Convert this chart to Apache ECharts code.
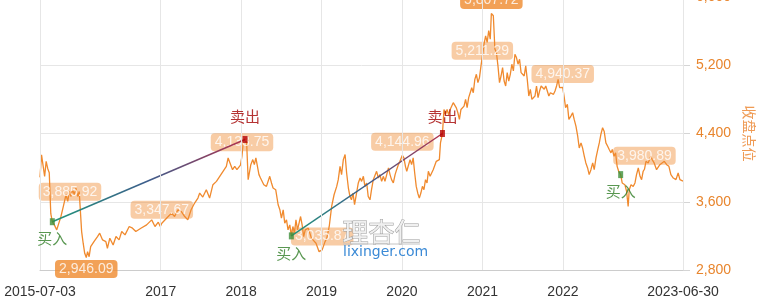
<!DOCTYPE html>
<html>
<head>
<meta charset="utf-8">
<script src="https://cdn.jsdelivr.net/npm/echarts@6/dist/echarts.min.js"></script>
<style>
  html, body { margin: 0; padding: 0; background: #fff; }
  #chart { width: 760px; height: 303px; }
</style>
</head>
<body>
<div id="chart"></div>
<script>
// 收盘点位（周线），按年份分段
const close2015 = [
  ["2015-07-03", 3885.92], ["2015-07-10", 4150], ["2015-07-17", 4160], ["2015-07-24", 3898],
  ["2015-07-31", 4074], ["2015-08-07", 3990], ["2015-08-14", 3941], ["2015-08-21", 3460],
  ["2015-08-28", 3366], ["2015-09-06", 3329], ["2015-09-17", 3270], ["2015-09-21", 3250],
  ["2015-10-06", 3427], ["2015-10-17", 3545], ["2015-10-29", 3682], ["2015-11-06", 3604],
  ["2015-11-13", 3721], ["2015-11-21", 3662], ["2015-11-28", 3741], ["2015-12-06", 3682],
  ["2015-12-13", 3760], ["2015-12-21", 3662], ["2015-12-28", 3721], ["2015-12-31", 3731]
];
const close2016 = [
  ["2016-01-08", 3250], ["2016-01-15", 3114], ["2016-01-22", 2996], ["2016-01-29", 2946.09],
  ["2016-02-04", 3015], ["2016-02-11", 2956], ["2016-02-18", 3074], ["2016-03-04", 3133],
  ["2016-03-20", 3192], ["2016-03-30", 3231], ["2016-04-12", 3153], ["2016-04-27", 3133],
  ["2016-05-04", 3055], ["2016-05-15", 3173], ["2016-05-30", 3094], ["2016-06-12", 3192],
  ["2016-06-26", 3153], ["2016-07-08", 3251], ["2016-07-23", 3212], ["2016-08-11", 3310],
  ["2016-08-26", 3290], ["2016-09-10", 3251], ["2016-10-03", 3290], ["2016-10-29", 3329],
  ["2016-11-21", 3388], ["2016-12-06", 3310], ["2016-12-21", 3360], ["2016-12-30", 3310]
];
const close2017 = [
  ["2017-01-06", 3347.67], ["2017-01-12", 3329], ["2017-02-04", 3427], ["2017-02-19", 3467],
  ["2017-03-05", 3427], ["2017-03-20", 3506], ["2017-04-04", 3486], ["2017-04-20", 3427],
  ["2017-05-04", 3388], ["2017-05-19", 3506], ["2017-06-04", 3585], ["2017-06-19", 3643],
  ["2017-06-27", 3702], ["2017-07-11", 3655], ["2017-07-27", 3741], ["2017-08-11", 3643],
  ["2017-08-26", 3800], ["2017-09-11", 3839], ["2017-09-26", 3898], ["2017-10-11", 3957],
  ["2017-10-26", 4015], ["2017-11-03", 4114], ["2017-11-10", 4094], ["2017-11-23", 3976],
  ["2017-12-03", 4015], ["2017-12-13", 3976], ["2017-12-29", 4030]
];
const close2018 = [
  ["2018-01-05", 4138.75], ["2018-01-12", 4340], ["2018-01-19", 4330], ["2018-01-26", 4300],
  ["2018-02-02", 3859], ["2018-02-14", 4035], ["2018-02-23", 4094], ["2018-03-02", 4035],
  ["2018-03-09", 4114], ["2018-03-23", 3918], ["2018-03-30", 3878], ["2018-04-08", 3898],
  ["2018-04-14", 3800], ["2018-04-26", 3780], ["2018-05-11", 3898], ["2018-05-19", 3820],
  ["2018-05-26", 3761], ["2018-06-07", 3741], ["2018-06-18", 3565], ["2018-06-26", 3506],
  ["2018-07-03", 3408], ["2018-07-11", 3506], ["2018-07-18", 3349], ["2018-07-26", 3388],
  ["2018-08-02", 3271], ["2018-08-10", 3329], ["2018-08-17", 3200], ["2018-08-24", 3310],
  ["2018-08-31", 3233], ["2018-09-07", 3388], ["2018-09-14", 3271], ["2018-09-28", 3427],
  ["2018-10-05", 3329], ["2018-10-12", 3192], ["2018-10-19", 3271], ["2018-11-02", 3290],
  ["2018-11-16", 3173], ["2018-11-23", 3192], ["2018-12-07", 3114], ["2018-12-21", 3015],
  ["2018-12-28", 2996]
];
const close2019 = [
  ["2019-01-04", 3035.87], ["2019-01-17", 3133], ["2019-01-25", 3173], ["2019-02-05", 3310],
  ["2019-02-16", 3545], ["2019-02-27", 3682], ["2019-03-11", 3780], ["2019-03-18", 3859],
  ["2019-03-26", 4015], ["2019-04-02", 3918], ["2019-04-10", 4094], ["2019-04-18", 4153],
  ["2019-04-25", 3937], ["2019-05-03", 3761], ["2019-05-10", 3662], ["2019-05-17", 3623],
  ["2019-05-24", 3702], ["2019-05-31", 3565], ["2019-06-06", 3545], ["2019-06-17", 3820],
  ["2019-06-25", 3878], ["2019-07-02", 3839], ["2019-07-10", 3898], ["2019-07-17", 3780],
  ["2019-07-25", 3820], ["2019-08-01", 3662], ["2019-08-09", 3623], ["2019-08-16", 3741],
  ["2019-08-24", 3859], ["2019-09-01", 3840], ["2019-09-08", 3957], ["2019-09-16", 3878],
  ["2019-09-23", 3918], ["2019-10-01", 3839], ["2019-10-09", 3898], ["2019-10-16", 3839],
  ["2019-10-24", 3918], ["2019-11-01", 3996], ["2019-11-08", 3918], ["2019-11-15", 3859],
  ["2019-11-23", 3820], ["2019-12-01", 3918], ["2019-12-08", 3976], ["2019-12-16", 4035],
  ["2019-12-23", 4074]
];
const close2020 = [
  ["2020-01-03", 4144.96], ["2020-01-10", 4114], ["2020-01-17", 4015], ["2020-01-23", 3957],
  ["2020-02-07", 4094], ["2020-02-14", 4035], ["2020-02-21", 4114], ["2020-02-28", 3937],
  ["2020-03-06", 3780], ["2020-03-13", 3700], ["2020-03-20", 3643], ["2020-03-27", 3702],
  ["2020-04-03", 3780], ["2020-04-10", 3741], ["2020-04-17", 3859], ["2020-04-24", 3820],
  ["2020-04-30", 3957], ["2020-05-08", 3898], ["2020-05-15", 3878], ["2020-05-22", 3976],
  ["2020-05-29", 3996], ["2020-06-05", 4074], ["2020-06-12", 4060], ["2020-06-19", 4094],
  ["2020-06-24", 4290], ["2020-07-03", 4400], ["2020-07-10", 4682], ["2020-07-17", 4623],
  ["2020-07-24", 4682], ["2020-07-31", 4620], ["2020-08-07", 4682], ["2020-08-14", 4702],
  ["2020-08-21", 4761], ["2020-08-28", 4741], ["2020-09-04", 4700], ["2020-09-11", 4643],
  ["2020-09-18", 4565], ["2020-09-25", 4682], ["2020-10-09", 4721], ["2020-10-16", 4800],
  ["2020-10-23", 4702], ["2020-10-30", 4820], ["2020-11-06", 4878], ["2020-11-13", 4937],
  ["2020-11-20", 4878], ["2020-11-27", 5035], ["2020-12-04", 5094], ["2020-12-11", 4996],
  ["2020-12-18", 5055], ["2020-12-25", 5192], ["2020-12-31", 5211.29]
];
const close2021 = [
  ["2021-01-08", 5450], ["2021-01-15", 5545], ["2021-01-22", 5467], ["2021-01-29", 5606],
  ["2021-02-05", 5506], ["2021-02-10", 5807.72], ["2021-02-19", 5780], ["2021-02-26", 5390],
  ["2021-03-05", 5349], ["2021-03-12", 5192], ["2021-03-19", 4996], ["2021-03-26", 5074],
  ["2021-04-02", 5172], ["2021-04-09", 5015], ["2021-04-16", 4957], ["2021-04-23", 5114],
  ["2021-04-30", 5015], ["2021-05-07", 5094], ["2021-05-14", 5212], ["2021-05-21", 5133],
  ["2021-05-28", 5329], ["2021-06-04", 5290], ["2021-06-11", 5212], ["2021-06-18", 5270],
  ["2021-06-25", 5114], ["2021-07-02", 5133], ["2021-07-09", 5074], ["2021-07-16", 5192],
  ["2021-07-23", 5035], ["2021-07-30", 4839], ["2021-08-06", 4918], ["2021-08-13", 4800],
  ["2021-08-20", 4780], ["2021-08-27", 4839], ["2021-09-03", 4957], ["2021-09-10", 4820],
  ["2021-09-17", 4898], ["2021-09-24", 4957], ["2021-10-08", 4918], ["2021-10-15", 4957],
  ["2021-10-22", 4898], ["2021-10-29", 4839], ["2021-11-05", 4878], ["2021-11-12", 4898],
  ["2021-11-19", 4859], ["2021-11-26", 4898], ["2021-12-03", 4957], ["2021-12-10", 5035],
  ["2021-12-17", 4937], ["2021-12-24", 4918], ["2021-12-31", 4940.37]
];
const close2022 = [
  ["2022-01-07", 4820], ["2022-01-13", 4702], ["2022-01-21", 4741], ["2022-01-28", 4565],
  ["2022-02-06", 4604], ["2022-02-14", 4643], ["2022-02-21", 4565], ["2022-03-01", 4486],
  ["2022-03-09", 4368], ["2022-03-16", 4231], ["2022-03-24", 4290], ["2022-03-31", 4231],
  ["2022-04-08", 4133], ["2022-04-15", 4055], ["2022-04-23", 3996], ["2022-04-30", 3918],
  ["2022-05-08", 3976], ["2022-05-16", 4055], ["2022-05-23", 3976], ["2022-05-31", 4114],
  ["2022-06-08", 4212], ["2022-06-15", 4290], ["2022-06-22", 4388], ["2022-06-30", 4467],
  ["2022-07-07", 4427], ["2022-07-15", 4290], ["2022-07-23", 4251], ["2022-07-30", 4212],
  ["2022-08-07", 4173], ["2022-08-13", 4212], ["2022-08-21", 4133], ["2022-08-28", 4173],
  ["2022-09-04", 4015], ["2022-09-11", 3957], ["2022-09-20", 3918], ["2022-09-27", 3820],
  ["2022-10-09", 3800], ["2022-10-17", 3721], ["2022-10-24", 3545], ["2022-10-29", 3741],
  ["2022-11-06", 3800], ["2022-11-16", 3780], ["2022-11-24", 3820], ["2022-12-01", 3918],
  ["2022-12-09", 3996], ["2022-12-17", 3898], ["2022-12-24", 3859], ["2022-12-31", 3957]
];
const close2023 = [
  ["2023-01-06", 3980.89], ["2023-01-13", 4074], ["2023-01-16", 4094], ["2023-01-23", 4055],
  ["2023-02-04", 4133], ["2023-02-10", 4094], ["2023-02-19", 4055], ["2023-03-02", 3976],
  ["2023-03-09", 3957], ["2023-03-17", 4035], ["2023-03-27", 4055], ["2023-04-06", 4074],
  ["2023-04-17", 4035], ["2023-04-27", 4015], ["2023-05-06", 3918], ["2023-05-17", 3878],
  ["2023-05-29", 3859], ["2023-06-08", 3937], ["2023-06-16", 3859], ["2023-06-24", 3839],
  ["2023-06-30", 3842]
];

// 标注点
const labelPoints = [
  ["2015-07-03", 3885.92], ["2016-01-29", 2946.09], ["2017-01-06", 3347.67],
  ["2018-01-05", 4138.75], ["2019-01-04", 3035.87], ["2020-01-03", 4144.96],
  ["2020-12-31", 5211.29], ["2021-02-10", 5807.72], ["2021-12-31", 4940.37],
  ["2023-01-06", 3980.89]
];
// 买卖点
const buyPoints = [["2015-08-28", 3366], ["2018-08-17", 3200], ["2022-09-20", 3918]];
const sellPoints = [["2018-01-19", 4330], ["2020-07-03", 4400]];

const xTickDates = ["2015-07-03", "2017-01-01", "2018-01-01", "2019-01-01",
  "2020-01-01", "2021-01-01", "2022-01-01", "2023-06-30"];
const yMin = 2800, yMax = 6000, yStep = 800;

// 日期转时间戳（横轴用数值轴承载时间）
const ts = (d) => echarts.time.parse(d);
const toTs = (arr) => arr.map((p) => [ts(p[0]), p[1]]);

const closeAll = toTs([].concat(close2015, close2016, close2017, close2018,
  close2019, close2020, close2021, close2022, close2023));

const ORANGE = "#f08a2e";
const FONT = "Liberation Sans, Arial, sans-serif";
const CJK = "Noto Sans CJK SC";
const DAY = 86400000;

const xTicks = xTickDates.map(ts);
const startT = xTicks[0];
const endT = xTicks[xTicks.length - 1];

const fmtNum = (v) => v.toLocaleString("en-US", { minimumFractionDigits: 2, maximumFractionDigits: 2 });

const vals = labelPoints.map((p) => p[1]);
const minVal = Math.min(...vals), maxVal = Math.max(...vals);

const buyData = toTs(buyPoints);
const sellData = toTs(sellPoints);

// 买入-卖出连线
const tradeSeries = sellData.map((s, i) => ({
  type: "line",
  z: 4,
  silent: true,
  showSymbol: false,
  data: [buyData[i], s],
  lineStyle: {
    width: 1.5,
    color: new echarts.graphic.LinearGradient(0, 0, 1, 0, [
      { offset: 0, color: "#21967a" },
      { offset: 0.5, color: "#3e5d8c" },
      { offset: 1, color: "#b5304a" },
    ]),
  },
}));

const chart = echarts.init(document.getElementById("chart"));
chart.setOption({
  animation: false,
  grid: { left: 40, right: 77, top: -3, bottom: 33, outerBoundsMode: "none" },
  xAxis: {
    type: "value",
    min: startT,
    max: endT,
    axisLine: { lineStyle: { color: "#cccccc" } },
    axisTick: { show: false },
    splitLine: { show: false },
    axisLabel: {
      customValues: xTicks,
      color: "#333",
      fontSize: 14,
      fontFamily: FONT,
      margin: 15,
      formatter: (v) => {
        const n = Number(v);
        const edge = Math.abs(n - startT) < DAY || Math.abs(n - endT) < DAY;
        return echarts.time.format(n, edge ? "{yyyy}-{MM}-{dd}" : "{yyyy}", false);
      },
    },
  },
  yAxis: {
    type: "value",
    position: "right",
    min: yMin,
    max: yMax,
    interval: yStep,
    name: "收盘点位",
    nameLocation: "middle",
    nameGap: 52,
    nameRotate: -90,
    nameTextStyle: { color: "#ef9b55", fontSize: 14, fontFamily: CJK },
    axisLine: { show: true, lineStyle: { color: "#cccccc" } },
    axisTick: { show: true, length: 7, lineStyle: { color: "#d5d5d5" } },
    splitLine: { lineStyle: { color: "#e6e6e6" } },
    axisLabel: {
      color: "#e8852d",
      fontSize: 14,
      fontFamily: FONT,
      margin: 13,
      formatter: (v) => v.toLocaleString("en-US"),
    },
  },
  graphic: [
    {
      type: "text", left: 342, top: 219, z: 100, silent: true,
      style: { text: "理杏仁", font: '26px "Noto Sans CJK SC"', fill: "#f0f0f0", stroke: "#9a9a9a", lineWidth: 1 },
    },
    {
      type: "line", z: 100, silent: true,
      shape: { x1: 343, y1: 244, x2: 420, y2: 244 },
      style: { stroke: "#c4c4c4", lineWidth: 1 },
    },
    {
      type: "text", left: 343, top: 245, z: 100, silent: true,
      style: { text: "lixinger.com", font: '14px "DejaVu Sans"', fill: "#3b8ad6" },
    },
  ],
  series: [
    {
      // 竖向网格线
      type: "line",
      z: 1,
      silent: true,
      showSymbol: false,
      data: closeAll,
      lineStyle: { opacity: 0 },
      markLine: {
        silent: true,
        symbol: ["none", "none"],
        label: { show: false },
        lineStyle: { color: "#e6e6e6", width: 1, type: "solid" },
        data: xTicks.map((t) => ({ xAxis: t })),
      },
    },
    {
      name: "收盘点位",
      type: "line",
      z: 2,
      showSymbol: false,
      data: closeAll,
      lineStyle: { color: ORANGE, width: 1.3 },
      itemStyle: { color: ORANGE },
    },
    {
      type: "scatter",
      z: 3,
      silent: true,
      symbolSize: 1,
      itemStyle: { color: "rgba(0,0,0,0)" },
      label: {
        show: true,
        color: "#fff",
        fontSize: 14,
        lineHeight: 14,
        fontFamily: FONT,
        padding: [2, 4],
        borderRadius: 4,
        formatter: (p) => fmtNum(p.value[1]),
      },
      data: labelPoints.map((p, i) => {
        const solid = p[1] === minVal || p[1] === maxVal;
        const below = i === 0 || p[1] === minVal;
        return {
          value: [ts(p[0]), p[1]],
          label: {
            position: below ? "bottom" : "top",
            distance: below ? 2 : 4,
            offset: i === 0 ? [30, 3] : [0, 0],
            backgroundColor: solid ? "#ef8a2d" : "rgba(240,140,50,0.55)",
          },
        };
      }),
    },
    ...tradeSeries,
    {
      type: "scatter",
      z: 5,
      silent: true,
      symbol: "rect",
      symbolSize: [5, 7],
      itemStyle: { color: "#3f8f3a" },
      label: {
        show: true, formatter: "买入", position: "bottom", distance: 6,
        color: "#2f7d25", fontSize: 15, fontFamily: CJK,
      },
      data: buyData,
    },
    {
      type: "scatter",
      z: 5,
      silent: true,
      symbol: "rect",
      symbolSize: [5, 7],
      itemStyle: { color: "#b50000" },
      label: {
        show: true, formatter: "卖出", position: "top",
        color: "#a30000", fontSize: 15, fontFamily: CJK,
      },
      // 两个“卖出”文字在原图里高度一致
      data: sellData.map((s, i) => ({ value: s, label: { distance: i === 0 ? 12 : 6 } })),
    },
  ],
});
</script>
</body>
</html>
